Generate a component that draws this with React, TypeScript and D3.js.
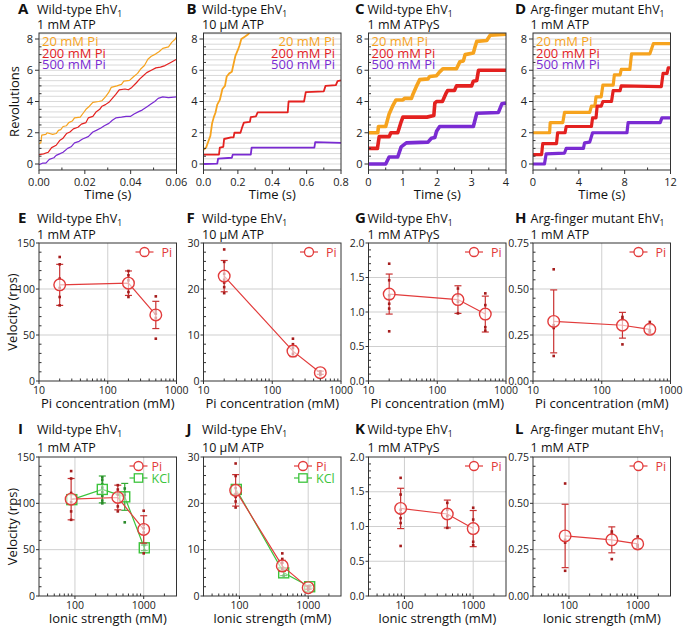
import React from "react";
import * as d3 from "d3";

type Pt = [number, number];

const FONT = "'Open Sans', 'Noto Sans', Arial, sans-serif";

// ---------- Top row: rotation traces (time, revolutions) ----------
const legendLabels = ["20 mM Pi", "200 mM Pi", "500 mM Pi"];

const traceA_20: Pt[] = [[0,1.3],[0.0008,1.35],[0.0012,1.85],[0.003,1.9],[0.0035,2.0],[0.006,1.9],[0.0075,1.95],[0.0085,2.15],[0.0095,2.2],[0.0105,2.4],[0.012,2.45],[0.013,2.65],[0.0145,2.75],[0.0155,2.95],[0.018,3.0],[0.019,3.2],[0.0205,3.5],[0.022,3.7],[0.0235,3.95],[0.026,4.0],[0.0275,4.05],[0.029,4.3],[0.0305,4.6],[0.0315,4.9],[0.034,5.0],[0.036,5.1],[0.037,5.3],[0.0395,5.35],[0.041,5.55],[0.043,5.8],[0.0445,6.1],[0.046,6.3],[0.0475,6.7],[0.049,6.9],[0.051,7.05],[0.0525,7.2],[0.054,7.4],[0.0565,7.5],[0.058,7.8],[0.0595,8.0],[0.06,8.15]];
const traceA_200: Pt[] = [[0,0.6],[0.002,0.65],[0.004,0.75],[0.0055,1.05],[0.0075,1.2],[0.009,1.5],[0.0105,1.65],[0.012,1.95],[0.0135,2.05],[0.015,2.25],[0.017,2.35],[0.0185,2.55],[0.0205,2.65],[0.0215,2.95],[0.0235,3.05],[0.025,3.35],[0.0265,3.5],[0.0275,3.7],[0.029,3.8],[0.0305,3.95],[0.032,4.2],[0.0335,4.45],[0.035,4.75],[0.0375,4.8],[0.039,4.75],[0.0405,4.9],[0.0425,5.2],[0.044,5.45],[0.0455,5.65],[0.047,5.85],[0.049,6.0],[0.051,6.15],[0.053,6.2],[0.055,6.3],[0.0575,6.5],[0.06,6.7]];
const traceA_500: Pt[] = [[0,-0.05],[0.0015,0.05],[0.003,0.05],[0.0045,0.3],[0.0065,0.4],[0.0075,0.55],[0.009,0.65],[0.0105,0.75],[0.0125,1.0],[0.014,1.1],[0.0155,1.35],[0.0175,1.45],[0.019,1.6],[0.0215,1.75],[0.0235,2.05],[0.025,2.15],[0.027,2.3],[0.0285,2.45],[0.0305,2.6],[0.032,2.8],[0.0335,2.95],[0.036,3.0],[0.038,3.05],[0.04,3.05],[0.0415,3.2],[0.0435,3.35],[0.045,3.45],[0.047,3.65],[0.049,3.85],[0.0505,4.0],[0.052,4.2],[0.054,4.3],[0.0565,4.25],[0.06,4.3]];

const traceB_20: Pt[] = [[0,0.9],[0.015,1.05],[0.03,1.5],[0.04,1.8],[0.05,2.6],[0.06,3.0],[0.07,3.3],[0.08,3.8],[0.095,4.1],[0.11,4.8],[0.125,5.0],[0.135,5.6],[0.15,5.8],[0.165,5.9],[0.175,6.4],[0.185,6.9],[0.2,7.3],[0.21,7.6],[0.22,8.0],[0.24,8.15],[0.26,8.3],[0.28,8.6]];
const traceB_200: Pt[] = [[0,0.6],[0.09,0.6],[0.095,1.05],[0.115,1.1],[0.12,1.6],[0.16,1.7],[0.175,1.7],[0.18,2.0],[0.215,2.0],[0.225,2.35],[0.235,2.65],[0.27,2.7],[0.275,3.0],[0.305,3.05],[0.315,3.3],[0.49,3.3],[0.495,4.0],[0.585,4.0],[0.595,4.6],[0.7,4.65],[0.71,5.0],[0.77,5.05],[0.78,5.3],[0.8,5.35]];
const traceB_500: Pt[] = [[0,0],[0.08,0.02],[0.085,0.35],[0.165,0.4],[0.17,0.6],[0.275,0.6],[0.28,1.05],[0.645,1.05],[0.65,1.4],[0.8,1.35]];

const traceC_20: Pt[] = [[0,2.0],[0.27,2.0],[0.29,2.4],[0.5,2.4],[0.6,3.2],[0.7,3.7],[0.8,4.1],[1.0,4.1],[1.05,4.2],[1.25,4.2],[1.3,4.5],[1.39,4.95],[1.49,5.4],[1.73,5.45],[1.78,5.6],[1.98,5.65],[2.07,5.9],[2.17,6.1],[2.56,6.1],[2.66,6.55],[2.76,6.6],[2.81,7.0],[3.05,7.1],[3.1,7.5],[3.15,7.85],[3.44,7.9],[3.54,8.25],[4.0,8.3]];
const traceC_200: Pt[] = [[0,1.0],[0.26,1.0],[0.31,1.75],[0.6,1.75],[0.65,2.0],[0.85,2.0],[0.95,2.7],[1.0,3.0],[1.7,3.0],[1.9,3.1],[1.93,3.9],[1.98,4.0],[2.15,4.0],[2.25,4.5],[2.3,4.7],[2.5,4.7],[2.56,5.0],[3.0,5.0],[3.05,5.3],[3.15,5.35],[3.2,6.0],[4.0,6.0]];
const traceC_500: Pt[] = [[0,0],[0.5,0],[0.6,0.45],[0.85,0.45],[0.95,1.1],[1.1,1.35],[1.73,1.4],[1.83,1.65],[1.93,1.7],[1.98,2.1],[2.07,2.4],[3.05,2.4],[3.15,3.25],[3.78,3.3],[3.88,3.85],[4.0,3.9]];

const traceD_20: Pt[] = [[0,2.0],[1.45,2.0],[1.5,2.65],[2.6,2.65],[2.75,3.3],[4.95,3.3],[5.1,3.7],[5.4,3.7],[5.5,4.3],[5.95,4.3],[6.1,5.05],[7.0,5.05],[7.1,5.7],[7.6,5.7],[7.7,6.05],[8.45,6.05],[8.6,7.05],[10.2,7.05],[10.5,7.7],[12,7.7]];
const traceD_200: Pt[] = [[0,0.6],[0.75,0.6],[0.85,1.3],[2.05,1.3],[2.15,2.0],[2.8,2.0],[2.9,2.4],[5.1,2.4],[5.2,2.95],[5.5,2.95],[5.6,3.7],[5.95,3.7],[6.1,4.0],[6.85,4.0],[7.0,4.7],[7.6,4.7],[7.7,5.0],[11.2,4.95],[11.35,5.8],[11.7,5.8],[11.8,6.15],[12,6.15]];
const traceD_500: Pt[] = [[0,0],[1.0,0],[1.15,0.65],[2.75,0.7],[2.9,1.0],[4.4,1.0],[4.5,1.35],[4.95,1.4],[5.2,2.0],[8.2,2.0],[8.3,2.65],[11.1,2.65],[11.25,2.95],[12,2.95]];

// ---------- Middle/bottom rows: velocities ----------
const piConc = [20, 200, 500];
const ionicPi = [88, 420, 1000];

const velE_mean = [104.5, 106.3, 71.8];
const velE_sd = [22.3, 13.3, 14.8];
const velE_dots = [[134.8, 126.8, 111.2, 101.1, 91.3, 82.2], [119.6, 114.9, 109.4, 96.7, 91.3], [92, 76.8, 73.2, 68.5, 46]];

const velF_mean = [22.8, 6.5, 1.8];
const velF_sd = [3.4, 1.2, 0.35];
const velF_dots = [[28.6, 25.9, 23.3, 22, 21.4, 20.4, 19.1], [9.2, 8.0, 7.2, 5.9], [2.1, 1.6, 1.3]];

const velG_mean = [1.26, 1.18, 0.97];
const velG_sd = [0.29, 0.2, 0.26];
const velG_dots = [[1.7, 1.46, 1.24, 1.19, 1.12, 1.05, 0.72], [1.34, 1.24, 1.15, 0.98], [1.27, 1.1, 0.78, 0.73]];

const velH_mean = [0.324, 0.303, 0.281];
const velH_sd = [0.171, 0.07, 0.025];
const velH_dots = [[0.607, 0.303, 0.288, 0.136], [0.348, 0.335, 0.199], [0.321, 0.275, 0.266]];

const ionicKclI = [90, 250, 530, 1020];
const kclI_mean = [104, 115, 107, 52];
const kclI_sd = [0, 14.5, 14.5, 3];
const kclI_dots = [[], [128, 125, 121, 117, 112, 108, 103, 100], [116, 112, 109, 79.5], [55, 49.5]];

const ionicKclJ = [90, 440, 1050];
const kclJ_mean = [23, 5.0, 2.0];
const kclJ_sd = [0, 0.6, 0.3];
const kclJ_dots = [[], [5.6, 4.4], [2.3, 1.8]];

// ---------- styling ----------
const C20 = "#F6A31E";
const C200 = "#E3211F";
const C500 = "#7A2BD2";
const RED = "#E23B3B";
const RED_ERR = "#C93232";
const RED_DOT = "#A51C1C";
const GREEN = "#3CC43C";
const GREEN_ERR = "#33AA33";
const GREEN_DOT = "#2A8A2A";
const GRID = "#cfcfcf";
const AX = "#333";

const COL_L = [39, 203.5, 368.5, 533];
const PLOT_W = 137.5;
const ROWS = [{ t: 33, b: 170 }, { t: 243, b: 381 }, { t: 457, b: 596 }];
const LETTER_X = [18, 186.5, 355, 515];
const TITLE_X = [37, 202, 367.5, 530.5];

function Title({ col, top, letter, line1, line2, off1, off2 }: any) {
  return (
    <g fontFamily={FONT} fill="#111">
      <text x={LETTER_X[col]} y={top - off1} fontSize={15} fontWeight="bold">{letter}</text>
      <text x={TITLE_X[col]} y={top - off1} fontSize={12.5}>
        {line1}
        <tspan fontSize={8.5} dy={3}>1</tspan>
      </text>
      <text x={TITLE_X[col]} y={top - off2} fontSize={12.5}>{line2}</text>
    </g>
  );
}

function TracePanel({ col, letter, line1, line2, xDomain, xMajor, xMinor, xFmt, traces, legendRight, strokeW, yLabel }: any) {
  const L = COL_L[col], R = L + PLOT_W, T = ROWS[0].t, B = ROWS[0].b;
  const x = d3.scaleLinear().domain(xDomain).range([L, R]);
  const y = d3.scaleLinear().domain([-0.384, 8.384]).range([B, T]);
  const line = d3.line<Pt>().x(d => x(d[0])).y(d => y(d[1]));
  const clipId = `clip-${letter}`;
  const grid = d3.range(0, 26).map(k => k / 3);
  const yMajor = [0, 2, 4, 6, 8];
  const yMinor = d3.range(0, 8.01, 0.5).filter(v => v % 2 !== 0);
  const colors = [C20, C200, C500];
  return (
    <g>
      <Title col={col} top={T} letter={letter} line1={line1} line2={line2} off1={19.5} off2={4.5} />
      <clipPath id={clipId}><rect x={L} y={T} width={R - L} height={B - T} /></clipPath>
      {grid.map((g, i) => (
        <line key={i} x1={L} x2={R} y1={y(g)} y2={y(g)} stroke={GRID} strokeWidth={0.8} />
      ))}
      <g clipPath={`url(#${clipId})`}>
        {traces.map((tr: Pt[], i: number) => (
          <path key={i} d={line(tr) || ""} fill="none" stroke={colors[i]} strokeWidth={strokeW} strokeLinejoin="round" />
        ))}
      </g>
      <rect x={L} y={T} width={R - L} height={B - T} fill="none" stroke={AX} strokeWidth={1} />
      {yMajor.map(v => (
        <g key={v}>
          <line x1={L - 4} x2={L} y1={y(v)} y2={y(v)} stroke={AX} />
          <text x={L - 6} y={y(v)} dy="0.35em" textAnchor="end" fontSize={11} fontFamily={FONT} fill="#222">{v}</text>
        </g>
      ))}
      {yMinor.map(v => <line key={v} x1={L} x2={L + 2.5} y1={y(v)} y2={y(v)} stroke={AX} />)}
      {xMajor.map((v: number) => (
        <g key={v}>
          <line x1={x(v)} x2={x(v)} y1={B} y2={B + 4} stroke={AX} />
          <text x={x(v)} y={B + 16} textAnchor="middle" fontSize={11} fontFamily={FONT} fill="#222">{xFmt(v)}</text>
        </g>
      ))}
      {xMinor.map((v: number) => <line key={v} x1={x(v)} x2={x(v)} y1={B} y2={B - 2.5} stroke={AX} />)}
      <text x={(L + R) / 2} y={B + 29} textAnchor="middle" fontSize={13} fontFamily={FONT} fill="#111">Time (s)</text>
      {yLabel && (
        <text transform={`translate(19,${(T + B) / 2}) rotate(-90)`} textAnchor="middle" fontSize={13} fontFamily={FONT} fill="#111">{yLabel}</text>
      )}
      {legendLabels.map((lab, i) => (
        <text key={lab} x={legendRight ? R - 6 : L + 3} y={T + 13 + i * 11.7} textAnchor={legendRight ? "end" : "start"}
          fontSize={13} fontFamily={FONT} fill={colors[i]}>{lab}</text>
      ))}
    </g>
  );
}

function logMinor(domain: number[]) {
  const out: number[] = [];
  for (let e = Math.floor(Math.log10(domain[0])); e <= Math.ceil(Math.log10(domain[1])); e++) {
    for (let m = 2; m < 10; m++) {
      const v = m * Math.pow(10, e);
      if (v > domain[0] && v < domain[1]) out.push(v);
    }
  }
  return out;
}

function ScatterPanel({ col, row, letter, line1, line2, xDomain, xMajor, gridX, yMax, yTicks, yFmt, yMinorStep, series, legendWide, xLabel, yLabel }: any) {
  const L = COL_L[col], R = L + PLOT_W, T = ROWS[row].t, B = ROWS[row].b;
  const x = d3.scaleLog().domain(xDomain).range([L, R]);
  const y = d3.scaleLinear().domain([0, yMax]).range([B, T]);
  const yMinor = d3.range(0, yMax + 1e-9, yMinorStep).filter(v => !yTicks.some((t: number) => Math.abs(t - v) < 1e-9));
  const xMinor = logMinor(xDomain);
  const off1 = row === 2 ? 23 : 20;
  const off2 = row === 2 ? 5.5 : 4.5;
  const mk = legendWide ? { l1: R - 47, l2: R - 29, m: R - 38, t: R - 25 } : { l1: R - 41, l2: R - 23, m: R - 32, t: R - 15 };
  return (
    <g>
      <Title col={col} top={T} letter={letter} line1={line1} line2={line2} off1={off1} off2={off2} />
      {yTicks.filter((v: number) => v > 0 && v < yMax).map((v: number) => (
        <line key={v} x1={L} x2={R} y1={y(v)} y2={y(v)} stroke={GRID} strokeWidth={1} />
      ))}
      {gridX.map((v: number) => <line key={v} x1={x(v)} x2={x(v)} y1={T} y2={B} stroke={GRID} strokeWidth={1} />)}
      {series.map((s: any, si: number) => {
        const pts: Pt[] = s.x.map((xv: number, i: number) => [x(xv), y(s.mean[i])]);
        const line = d3.line<Pt>();
        return (
          <g key={si}>
            <path d={line(pts) || ""} fill="none" stroke={s.color} strokeWidth={1.2} />
            {s.x.map((xv: number, i: number) => (
              <g key={i}>
                {s.sd[i] > 0 && (
                  <g stroke={s.errColor} strokeWidth={1.2}>
                    <line x1={x(xv)} x2={x(xv)} y1={y(s.mean[i] - s.sd[i])} y2={y(s.mean[i] + s.sd[i])} />
                    <line x1={x(xv) - 3.5} x2={x(xv) + 3.5} y1={y(s.mean[i] - s.sd[i])} y2={y(s.mean[i] - s.sd[i])} />
                    <line x1={x(xv) - 3.5} x2={x(xv) + 3.5} y1={y(s.mean[i] + s.sd[i])} y2={y(s.mean[i] + s.sd[i])} />
                  </g>
                )}
                {s.dots[i].map((dv: number, j: number) => (
                  <rect key={j} x={x(xv) - 1.3} y={y(dv) - 1.3} width={2.6} height={2.6} fill={s.dotColor} />
                ))}
              </g>
            ))}
            {s.x.map((xv: number, i: number) =>
              s.marker === "circle" ? (
                <circle key={"m" + i} cx={x(xv)} cy={y(s.mean[i])} r={5.8} fill="white" fillOpacity={0.6} stroke={s.color} strokeWidth={1.4} />
              ) : (
                <rect key={"m" + i} x={x(xv) - 5} y={y(s.mean[i]) - 5} width={10} height={10} fill="white" fillOpacity={0.4} stroke={s.color} strokeWidth={1.4} />
              )
            )}
          </g>
        );
      })}
      <rect x={L} y={T} width={R - L} height={B - T} fill="none" stroke={AX} strokeWidth={1} />
      {yTicks.map((v: number) => (
        <g key={v}>
          <line x1={L - 3} x2={L} y1={y(v)} y2={y(v)} stroke={AX} />
          <text x={L - 4} y={y(v)} dy="0.35em" textAnchor="end" fontSize={10.5} fontFamily={FONT} fill="#222">{yFmt(v)}</text>
        </g>
      ))}
      {yMinor.map((v: number) => <line key={v} x1={L} x2={L + 2.5} y1={y(v)} y2={y(v)} stroke={AX} />)}
      {xMajor.map((v: number) => (
        <g key={v}>
          <line x1={x(v)} x2={x(v)} y1={B} y2={B + 3} stroke={AX} />
          <text x={x(v)} y={B + 13} textAnchor="middle" fontSize={10.5} fontFamily={FONT} fill="#222">{v}</text>
        </g>
      ))}
      {xMinor.map((v: number) => <line key={v} x1={x(v)} x2={x(v)} y1={B} y2={B - 2.5} stroke={AX} />)}
      <text x={(L + R) / 2} y={B + 27} textAnchor="middle" fontSize={13} fontFamily={FONT} fill="#111">{xLabel}</text>
      {yLabel && (
        <text transform={`translate(17,${(T + B) / 2}) rotate(-90)`} textAnchor="middle" fontSize={13} fontFamily={FONT} fill="#111">{yLabel}</text>
      )}
      {series.slice().reverse().map((s: any, i: number) => {
        const ly = T + 9 + i * 12;
        return (
          <g key={"lg" + i}>
            <line x1={mk.l1} x2={mk.l2} y1={ly} y2={ly} stroke={s.color} strokeWidth={1.2} />
            {s.marker === "circle" ? (
              <circle cx={mk.m} cy={ly} r={4.5} fill="white" stroke={s.color} strokeWidth={1.3} />
            ) : (
              <rect x={mk.m - 4.2} y={ly - 4.2} width={8.4} height={8.4} fill="white" stroke={s.color} strokeWidth={1.3} />
            )}
            <text x={mk.t} y={ly} dy="0.36em" fontSize={12.5} fontFamily={FONT} fill={s.color}>{s.name}</text>
          </g>
        );
      })}
    </g>
  );
}

const piSeries = (xs: number[], mean: number[], sd: number[], dots: number[][]) => ({
  name: "Pi", x: xs, mean, sd, dots, color: RED, errColor: RED_ERR, dotColor: RED_DOT, marker: "circle",
});
const kclSeries = (xs: number[], mean: number[], sd: number[], dots: number[][]) => ({
  name: "KCl", x: xs, mean, sd, dots, color: GREEN, errColor: GREEN_ERR, dotColor: GREEN_DOT, marker: "square",
});

export default function App() {
  const wt = "Wild-type EhV";
  const mut = "Arg-finger mutant EhV";
  const f2 = (v: number) => v.toFixed(2);
  const f1 = (v: number) => v.toFixed(1);
  const f0 = (v: number) => String(v);
  const midRows = [
    { row: 1, xDomain: [10, 1000], xMajor: [10, 100, 1000], gridX: [100], xLabel: "Pi concentration (mM)" },
    { row: 2, xDomain: [30, 3000], xMajor: [100, 1000], gridX: [100, 1000], xLabel: "Ionic strength (mM)" },
  ];
  const vel = [
    { mean: velE_mean, sd: velE_sd, dots: velE_dots, yMax: 150, yTicks: [0, 50, 100, 150], yFmt: f0, yMinorStep: 10 },
    { mean: velF_mean, sd: velF_sd, dots: velF_dots, yMax: 30, yTicks: [0, 10, 20, 30], yFmt: f0, yMinorStep: 2 },
    { mean: velG_mean, sd: velG_sd, dots: velG_dots, yMax: 2, yTicks: [0, 0.5, 1, 1.5, 2], yFmt: f1, yMinorStep: 0.1 },
    { mean: velH_mean, sd: velH_sd, dots: velH_dots, yMax: 0.75, yTicks: [0, 0.25, 0.5, 0.75], yFmt: f2, yMinorStep: 0.05 },
  ];
  const titles = [
    { l1: wt, l2: "1 mM ATP" },
    { l1: wt, l2: "10 μM ATP" },
    { l1: wt, l2: "1 mM ATPγS" },
    { l1: mut, l2: "1 mM ATP" },
  ];
  const letters = [["E", "F", "G", "H"], ["I", "J", "K", "L"]];
  return (
    <svg width={683} height={626} style={{ position: "absolute", left: 0, top: 0, background: "white" }}>
      <rect width={683} height={626} fill="white" />
      <TracePanel col={0} letter="A" line1={wt} line2="1 mM ATP" xDomain={[0, 0.06]} xMajor={[0, 0.02, 0.04, 0.06]}
        xMinor={[0.01, 0.03, 0.05]} xFmt={f2} traces={[traceA_20, traceA_200, traceA_500]} strokeW={1.2} yLabel="Revolutions" />
      <TracePanel col={1} letter="B" line1={wt} line2="10 μM ATP" xDomain={[0, 0.8]} xMajor={[0, 0.2, 0.4, 0.6, 0.8]}
        xMinor={[0.1, 0.3, 0.5, 0.7]} xFmt={f1} traces={[traceB_20, traceB_200, traceB_500]} strokeW={1.8} legendRight />
      <TracePanel col={2} letter="C" line1={wt} line2="1 mM ATPγS" xDomain={[0, 4]} xMajor={[0, 1, 2, 3, 4]}
        xMinor={[0.5, 1.5, 2.5, 3.5]} xFmt={f0} traces={[traceC_20, traceC_200, traceC_500]} strokeW={3.6} />
      <TracePanel col={3} letter="D" line1={mut} line2="1 mM ATP" xDomain={[0, 12]} xMajor={[0, 4, 8, 12]}
        xMinor={[2, 6, 10]} xFmt={f0} traces={[traceD_20, traceD_200, traceD_500]} strokeW={3.2} />
      {midRows.map((mr, ri) =>
        vel.map((v, ci) => {
          const xs = ri === 0 ? piConc : ionicPi;
          const series: any[] = [];
          if (ri === 1 && ci === 0) series.push(kclSeries(ionicKclI, kclI_mean, kclI_sd, kclI_dots));
          if (ri === 1 && ci === 1) series.push(kclSeries(ionicKclJ, kclJ_mean, kclJ_sd, kclJ_dots));
          series.push(piSeries(xs, v.mean, v.sd, v.dots));
          return (
            <ScatterPanel key={letters[ri][ci]} col={ci} row={mr.row} letter={letters[ri][ci]} line1={titles[ci].l1} line2={titles[ci].l2}
              xDomain={mr.xDomain} xMajor={mr.xMajor} gridX={mr.gridX} yMax={v.yMax} yTicks={v.yTicks} yFmt={v.yFmt}
              yMinorStep={v.yMinorStep} series={series} legendWide={series.length > 1} xLabel={mr.xLabel}
              yLabel={ci === 0 ? "Velocity (rps)" : null} />
          );
        })
      )}
    </svg>
  );
}
